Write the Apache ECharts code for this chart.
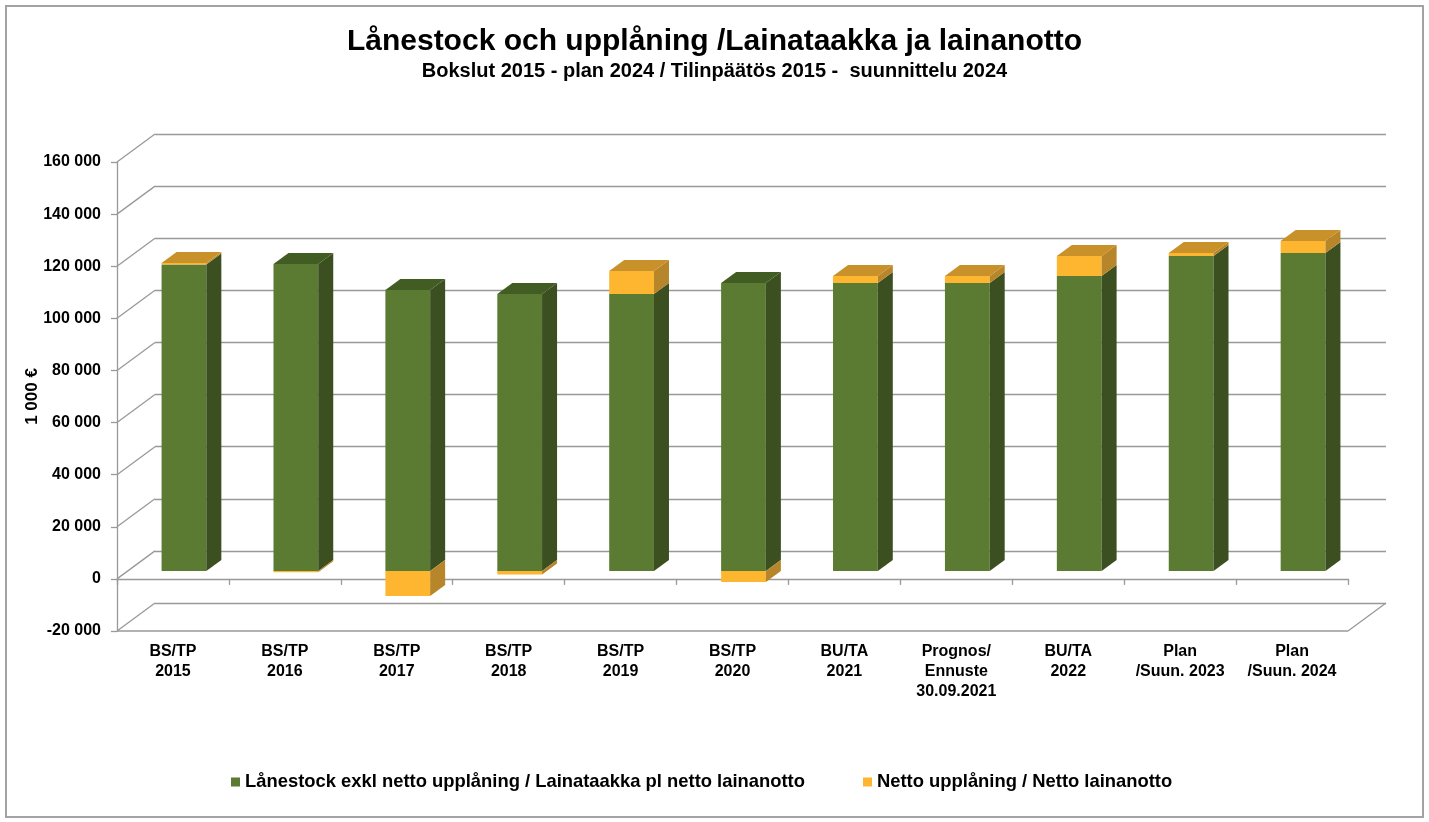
<!DOCTYPE html>
<html>
<head>
<meta charset="utf-8">
<script src="https://cdn.jsdelivr.net/npm/echarts@6/dist/echarts.min.js"></script>
<style>
  html, body { margin: 0; padding: 0; background: #fff; }
  #chart { width: 1429px; height: 822px; }
</style>
</head>
<body>
<div id="chart"></div>
<script>
// categories and values (1 000 €)
const categories = [
  "BS/TP\n2015", "BS/TP\n2016", "BS/TP\n2017", "BS/TP\n2018", "BS/TP\n2019",
  "BS/TP\n2020", "BU/TA\n2021", "Prognos/\nEnnuste\n30.09.2021", "BU/TA\n2022",
  "Plan\n/Suun. 2023", "Plan\n/Suun. 2024"
];
const loanStock = [117600, 117800, 107800, 106300, 106300, 110500, 110500, 110500, 113200, 120900, 122000];
const netBorrowing = [600, -500, -9600, -1400, 8800, -4300, 2700, 2700, 7700, 1100, 4600];
const yTicks = [-20000, 0, 20000, 40000, 60000, 80000, 100000, 120000, 140000, 160000];

const seriesNames = [
  "Lånestock exkl netto upplåning / Lainataakka pl netto lainanotto",
  "Netto upplåning / Netto lainanotto"
];

const FONT = "'Liberation Sans', Arial, sans-serif";
// 3D look: wall depth offset and bar placement inside the depth
const DEPTH = [38, -28];
const BAR_SHIFT = [11, -8];
const BAR_DEPTH = [15, -11];

const faces = {
  green: { front: "#5b7b32", side: "#3b4f20", top: "#425d24" },
  orange: { front: "#feb631", side: "#b8862a", top: "#c8912a" }
};

// [category, from, to, isTop]
const greenData = loanStock.map((v, i) => [i, 0, v, netBorrowing[i] > 0 ? 0 : 1]);
const orangeData = netBorrowing.map((v, i) =>
  v > 0 ? [i, loanStock[i], loanStock[i] + v, 1] : [i, v, 0, 0]
);

function renderBar(colors) {
  return function (params, api) {
    const cat = api.value(0);
    const p0 = api.coord([cat, api.value(1)]);
    const p1 = api.coord([cat, api.value(2)]);
    const w = api.size([1, 0])[0] * 0.4;
    const x0 = p0[0] - w / 2 + BAR_SHIFT[0];
    const x1 = x0 + w;
    const yb = p0[1] + BAR_SHIFT[1];
    const yt = p1[1] + BAR_SHIFT[1];
    const dx = BAR_DEPTH[0], dy = BAR_DEPTH[1];
    const children = [
      { type: "polygon", shape: { points: [[x0, yt], [x1, yt], [x1, yb], [x0, yb]] },
        style: { fill: colors.front } },
      { type: "polygon", shape: { points: [[x1, yt], [x1 + dx, yt + dy], [x1 + dx, yb + dy], [x1, yb]] },
        style: { fill: colors.side } }
    ];
    if (api.value(3)) {
      children.push({ type: "polygon",
        shape: { points: [[x0, yt], [x0 + dx, yt + dy], [x1 + dx, yt + dy], [x1, yt]] },
        style: { fill: colors.top } });
    }
    return { type: "group", children: children };
  };
}

// left wall diagonals and floor outline
function renderFrame(params, api) {
  const v = api.value(0);
  const cs = params.coordSys;
  const y = api.coord([0, v])[1];
  const xl = cs.x, xr = cs.x + cs.width;
  const lineStyle = { stroke: "#999", lineWidth: 1.3, fill: null };
  const children = [
    { type: "line", shape: { x1: xl, y1: y, x2: xl + DEPTH[0], y2: y + DEPTH[1] }, style: lineStyle }
  ];
  if (v === yTicks[0]) {
    children.push({ type: "line", shape: { x1: xl, y1: y, x2: xr, y2: y }, style: lineStyle });
    children.push({ type: "line", shape: { x1: xr, y1: y, x2: xr + DEPTH[0], y2: y + DEPTH[1] }, style: lineStyle });
  }
  return { type: "group", children: children };
}

const chart = echarts.init(document.getElementById("chart"));

const gridFront = { left: 117, right: 81, top: 162, bottom: 191 };
const gridBack = {
  left: gridFront.left + DEPTH[0], right: gridFront.right - DEPTH[0],
  top: gridFront.top + DEPTH[1], bottom: gridFront.bottom - DEPTH[1]
};

const yRange = { min: yTicks[0], max: yTicks[yTicks.length - 1], interval: 20000 };

const option = {
  backgroundColor: "#fff",
  animation: false,
  textStyle: { fontFamily: FONT },
  title: {
    text: "Lånestock och upplåning /Lainataakka ja lainanotto",
    subtext: "Bokslut 2015 - plan 2024 / Tilinpäätös 2015 -  suunnittelu 2024",
    left: "center",
    top: 22,
    itemGap: 4,
    textStyle: { fontFamily: FONT, fontSize: 30, fontWeight: "bold", color: "#000" },
    subtextStyle: { fontFamily: FONT, fontSize: 20, fontWeight: "bold", color: "#000" }
  },
  legend: {
    top: 768,
    left: 226,
    icon: "rect",
    itemWidth: 9,
    itemHeight: 9,
    itemGap: 58,
    data: seriesNames,
    textStyle: { fontFamily: FONT, fontSize: 18.4, fontWeight: "bold", color: "#000" }
  },
  graphic: [
    { type: "rect", shape: { x: 6, y: 6, width: 1417, height: 811 },
      style: { fill: null, stroke: "#a3a3a3", lineWidth: 2 }, silent: true }
  ],
  grid: [gridFront, gridBack],
  xAxis: [
    {
      type: "category", gridIndex: 0, data: categories,
      axisLine: { onZero: true, lineStyle: { color: "#999", width: 1.3 } },
      axisTick: { show: true, length: 6, lineStyle: { color: "#999", width: 1.3 } },
      axisLabel: {
        margin: 11, color: "#000", fontFamily: FONT, fontSize: 16, fontWeight: "bold",
        lineHeight: 20, interval: 0
      },
      splitLine: { show: false }
    },
    {
      type: "category", gridIndex: 1, data: categories, show: false
    }
  ],
  yAxis: [
    {
      type: "value", gridIndex: 0, min: yRange.min, max: yRange.max, interval: yRange.interval,
      name: "1 000 €", nameLocation: "middle", nameRotate: 90, nameGap: 76,
      nameMoveOverlap: false,
      nameTextStyle: { fontFamily: FONT, fontSize: 17, fontWeight: "bold", color: "#000" },
      axisLine: { show: true, lineStyle: { color: "#999", width: 1.3 } },
      axisTick: { show: true, length: 6, lineStyle: { color: "#999", width: 1.3 } },
      axisLabel: {
        margin: 16, color: "#000", fontFamily: FONT, fontSize: 16, fontWeight: "bold",
        formatter: v => String(v).replace(/\B(?=(\d{3})+(?!\d))/g, " ")
      },
      splitLine: { show: false }
    },
    {
      type: "value", gridIndex: 1, min: yRange.min, max: yRange.max, interval: yRange.interval,
      axisLine: { show: false }, axisTick: { show: false }, axisLabel: { show: false },
      splitLine: { show: true, lineStyle: { color: "#999", width: 1.3 } }
    }
  ],
  series: [
    {
      type: "custom", name: "frame", xAxisIndex: 0, yAxisIndex: 0,
      renderItem: renderFrame, data: yTicks.map(v => [v]), encode: { y: 0 },
      silent: true, z: 1
    },
    {
      type: "custom", name: seriesNames[0], xAxisIndex: 0, yAxisIndex: 0,
      renderItem: renderBar(faces.green), data: greenData,
      encode: { x: 0, y: [1, 2] }, itemStyle: { color: faces.green.front }, z: 3
    },
    {
      type: "custom", name: seriesNames[1], xAxisIndex: 0, yAxisIndex: 0,
      renderItem: renderBar(faces.orange), data: orangeData,
      encode: { x: 0, y: [1, 2] }, itemStyle: { color: faces.orange.front }, z: 4
    }
  ]
};

chart.setOption(option);
</script>
</body>
</html>
